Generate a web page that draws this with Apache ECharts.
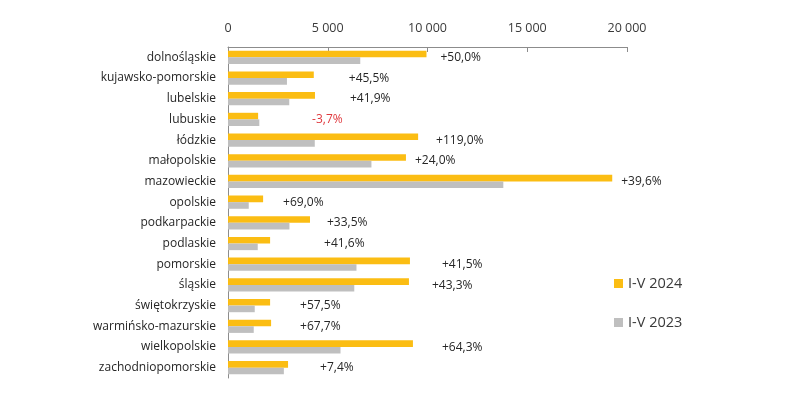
<!DOCTYPE html>
<html><head><meta charset="utf-8">
<script src="https://cdn.jsdelivr.net/npm/echarts@6/dist/echarts.min.js"></script>
<style>html,body{margin:0;padding:0;background:#fff}#c{width:800px;height:400px}</style>
</head><body><div id="c"></div>
<script>
const categories = ['dolnośląskie','kujawsko-pomorskie','lubelskie','lubuskie','łódzkie','małopolskie','mazowieckie','opolskie','podkarpackie','podlaskie','pomorskie','śląskie','świętokrzyskie','warmińsko-mazurskie','wielkopolskie','zachodniopomorskie'];
const values2024 = [9950,4300,4360,1510,9530,8920,19260,1760,4110,2110,9120,9070,2110,2160,9270,3010];
const values2023 = [6630,2955,3070,1570,4350,7190,13800,1040,3080,1490,6440,6330,1340,1290,5640,2800];
const changeLabels = ['+50,0%','+45,5%','+41,9%','-3,7%','+119,0%','+24,0%','+39,6%','+69,0%','+33,5%','+41,6%','+41,5%','+43,3%','+57,5%','+67,7%','+64,3%','+7,4%'];
const xTicks = {min:0, max:20000, interval:5000};
const seriesNames = ['I-V 2024','I-V 2023'];
// label gaps (px) after the yellow bar end, as placed in the original
const labelGap = [14,35,35,54,18,9,9,20,17,54,32,23,30,29,29,32];

const FONT = '"Open Sans", "Noto Sans", sans-serif';
const chart = echarts.init(document.getElementById('c'), null, {renderer:'canvas'});
chart.setOption({
  animation:false,
  textStyle:{fontFamily:FONT},
  grid:{left:228, right:173, top:47, bottom:22},
  legend:{
    orient:'vertical', left:609, top:271, itemWidth:9, itemHeight:9, itemGap:24,
    icon:'rect', data:seriesNames,
    textStyle:{fontSize:14.5, color:'#3a3a3a', fontFamily:FONT}
  },
  xAxis:{
    type:'value', position:'top', min:xTicks.min, max:xTicks.max, interval:xTicks.interval,
    axisLine:{show:true, lineStyle:{color:'#8c8c8c'}},
    axisTick:{show:true, inside:true, length:5, lineStyle:{color:'#8c8c8c'}},
    splitLine:{show:false},
    axisLabel:{fontSize:12.5, color:'#3a3a3a', margin:12,
      formatter:v=>String(v).replace(/\B(?=(\d{3})+(?!\d))/g,' ')}
  },
  yAxis:{
    type:'category', data:categories, inverse:true,
    axisLine:{show:true, lineStyle:{color:'#8c8c8c'}},
    axisTick:{show:false},
    axisLabel:{fontSize:12, color:'#262626', margin:12}
  },
  series:[
    {name:seriesNames[0], type:'bar', data:values2024.map((v,i)=>({value:v,
        label:{show:true, position:'right', distance:0, offset:[labelGap[i],3.5],
          formatter:changeLabels[i], fontSize:12,
          color: changeLabels[i].startsWith('-') ? '#e0393e' : '#262626'}})),
     itemStyle:{color:'#fbbd13'}, barGap:'0%', barCategoryGap:'36%'},
    {name:seriesNames[1], type:'bar', data:values2023,
     itemStyle:{color:'#bfbfbf'}, barGap:'0%', barCategoryGap:'36%'}
  ]
});
</script></body></html>
